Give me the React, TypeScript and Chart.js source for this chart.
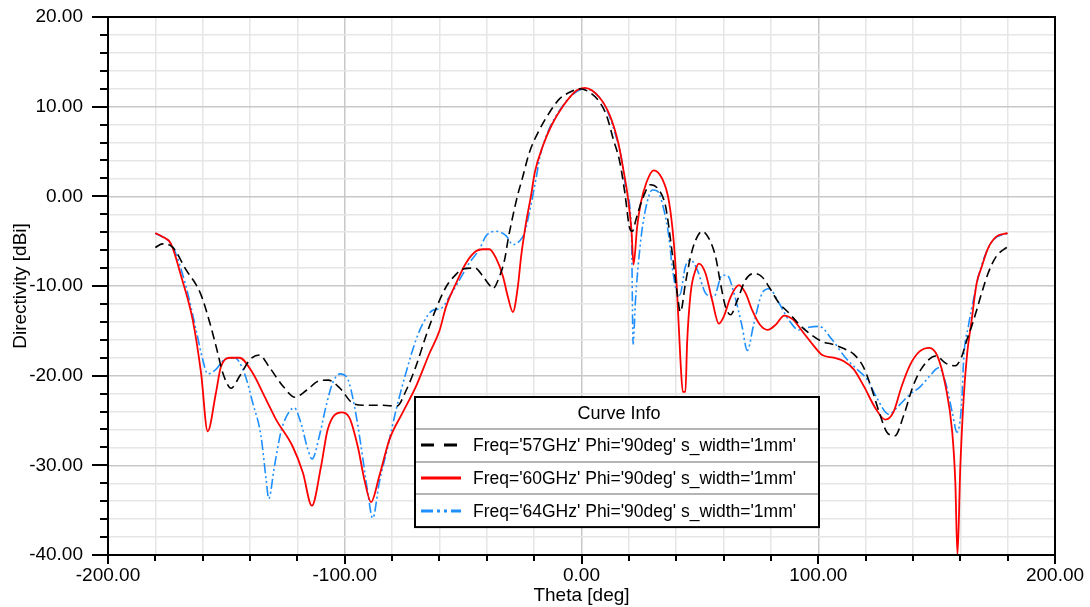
import React, { useEffect, useRef } from "react";
import { Chart, registerables } from "chart.js";

Chart.register(...registerables);

// ---------- data ----------
const seriesLabels = [
  "Freq='57GHz' Phi='90deg' s_width='1mm'",
  "Freq='60GHz' Phi='90deg' s_width='1mm'",
  "Freq='64GHz' Phi='90deg' s_width='1mm'",
];

const xMajorTicks = [-200, -100, 0, 100, 200];
const yMajorTicks = [-40, -30, -20, -10, 0, 10, 20];

const theta57 = [
  -180, -177, -173, -167, -161, -157, -154, -151.5, -148, -144.5, -140, -136, -132, -126, -121, -116, -111, -107,
  -102, -97, -92, -84, -78, -74, -70, -65.6, -61.4, -57, -53.7, -50, -45, -41.7, -38.9, -37.5, -34.6, -32.5, -31,
  -29, -27, -25, -22, -17.6, -13.4, -9.2, -5, -1, 3.5, 7.7, 10.6, 13.4, 16.2, 18.3, 20.4, 21.5, 23, 25.6, 29.2,
  32.7, 35.5, 38.3, 40.4, 41.8, 43.9, 46.1, 48.2, 51, 53.8, 56.6, 58.7, 60.8, 63, 65.8, 69.3, 72.8, 76.3, 79.2,
  83.4, 87.6, 92, 96.8, 101.7, 106, 111, 115, 119, 122, 126, 129, 132.4, 136, 140, 143.4, 149.7, 153.8, 157.9,
  160.7, 162.8, 164.8, 166.9, 169, 171.7, 175.2, 180,
];
const dir57 = [
  -5.7, -5.3, -5.6, -8.2, -10.8, -14.1, -17.1, -19.7, -21.4, -20.1, -18.2, -17.7, -19.0, -21.2, -22.4, -21.6, -20.6,
  -20.5, -21.4, -23.0, -23.3, -23.3, -23.4, -21.6, -19.0, -15.5, -12.5, -10.0, -8.9, -8.1, -8.0, -8.9, -9.9, -10.3,
  -8.9, -7.1, -4.8, -2.2, 0.1, 2.0, 4.9, 7.5, 9.4, 10.9, 11.6, 12.0, 11.6, 10.5, 9.0, 6.4, 3.8, 0.4, -3.6, -3.9,
  -2.6, -0.4, 1.3, 0.7, -1.1, -6.3, -10.8, -12.9, -9.7, -6.7, -4.9, -3.9, -4.7, -6.7, -9.7, -12.3, -13.2, -11.6,
  -9.3, -8.6, -9.0, -10.1, -11.9, -13.0, -14.3, -15.4, -16.2, -16.5, -17.0, -17.6, -19.0, -21.0, -24.3, -26.3,
  -26.7, -24.5, -21.2, -19.3, -17.8, -18.6, -18.9, -17.8, -16.0, -14.5, -12.7, -10.8, -8.6, -6.7, -5.6,
];

const theta60 = [
  -180, -177, -173.4, -169, -164.2, -160.7, -157.9, -154.4, -152.3, -148, -144.5, -138.9, -133.9, -129, -122, -117.7,
  -113.9, -110, -107.2, -101.5, -98, -94.5, -91.7, -88.9, -85.4, -81.1, -75.5, -69.9, -64.2, -60, -57.2, -53, -48.7,
  -44.5, -41.7, -38.9, -36.1, -33.2, -31.1, -29, -26.9, -25.5, -23.4, -21.3, -19.7, -16.2, -12.7, -7.7, -2.1, 1.4,
  7.7, 12, 15.5, 17.6, 19.7, 21.1, 22, 23.5, 25, 27.5, 30.5, 34, 36.9, 39, 40.4, 41.8, 42.8, 43.9, 44.6, 46.1, 48.2,
  49.6, 52.4, 55.2, 58, 60.1, 63, 66.5, 69.3, 72.1, 75.3, 78.6, 82.1, 85.6, 89.1, 94, 98.2, 101.7, 106.6, 110.8, 115,
  119.3, 124.1, 128.3, 131.7, 135.2, 138.6, 142.8, 146.9, 150.3, 153.8, 156.6, 157.9, 158.8, 160, 161.4, 162.8, 164.8,
  166.9, 169, 171.7, 175.2, 180,
];
const dir60 = [
  -4.1, -4.5, -5.3, -9.0, -13.8, -19.7, -26.2, -21.9, -19.0, -18.0, -18.0, -19.7, -22.3, -24.9, -27.9, -30.8, -34.5,
  -30.1, -26.0, -24.1, -24.7, -27.9, -31.6, -34.1, -31.2, -27.1, -24.1, -21.2, -17.5, -15.0, -12.3, -9.7, -7.4, -6.1,
  -5.9, -5.9, -6.9, -8.9, -11.2, -12.9, -10.1, -6.7, -2.9, 0.1, 2.7, 5.7, 7.9, 10.1, 11.8, 12.1, 11.0, 9.0, 6.0, 3.1,
  -0.3, -3.8, -7.6, -3.4, -0.8, 1.6, 2.9, 2.0, -0.5, -5.2, -10.8, -18.3, -21.8, -21.8, -16.4, -10.8, -8.2, -7.5, -8.6,
  -11.6, -14.2, -13.4, -11.2, -9.9, -10.8, -12.7, -14.3, -14.9, -14.3, -13.3, -13.7, -15.3, -16.7, -17.7, -18.0,
  -18.4, -19.3, -21.2, -23.6, -24.9, -24.1, -21.2, -18.9, -17.3, -16.9, -17.8, -21.2, -26.3, -31.9, -40.0, -30.2,
  -22.6, -17.8, -13.8, -9.7, -7.9, -5.8, -4.5, -4.1,
];

const theta64 = [
  -180, -172.7, -167, -162.8, -160, -157.9, -154.4, -150.8, -146.6, -142.4, -138.9, -135.4, -133.2, -132.1, -129.7,
  -126.9, -123.4, -121.3, -118.5, -115.6, -113.8, -110.7, -107.9, -105.1, -102, -98.7, -95.9, -93.1, -90.3, -88.2,
  -85.4, -81.8, -78.3, -74.6, -69.9, -67, -62.8, -59.3, -55.8, -51.5, -47.3, -43.1, -40.3, -36.1, -31.8, -29, -26.2,
  -24.1, -22, -19.2, -17.5, -14, -9, -3.5, 1.4, 6.3, 10.6, 14.1, 16.9, 19, 21.1, 21.8, 22.8, 24.9, 27, 29.9, 32, 34.8,
  36.9, 38.3, 40.4, 41.5, 43.9, 46.1, 48.9, 52.4, 55.9, 59.4, 61.5, 64.4, 67.9, 70, 72.8, 76.3, 79.2, 83.4, 87.6,
  91.8, 96.1, 100.3, 105.9, 111.5, 116.4, 120.6, 124.8, 129.7, 133.8, 138.6, 142.8, 146.9, 151, 153.8, 156.6, 158.6,
  160.7, 161.4, 163.4, 165.5, 167.6, 170.3, 173.8, 180,
];
const dir64 = [
  -4.1, -5.6, -10.1, -14.9, -18.2, -19.8, -19.3, -18.2, -18.0, -19.7, -23.0, -26.7, -31.6, -33.7, -30.1, -26.2, -24.0,
  -23.6, -25.3, -28.2, -29.3, -26.7, -23.4, -20.8, -19.8, -20.4, -23.4, -27.9, -33.0, -35.9, -31.9, -27.9, -23.8,
  -20.1, -16.0, -14.2, -12.7, -12.5, -11.2, -9.3, -7.4, -5.9, -4.4, -3.9, -4.4, -5.4, -5.0, -4.1, -1.8, 2.0, 4.5, 7.3,
  9.7, 11.4, 12.0, 11.4, 9.7, 7.1, 4.2, 0.5, -4.0, -16.5, -11.6, -5.2, -1.5, 0.7, 0.6, -1.5, -4.5, -7.8, -10.8, -11.0,
  -7.8, -7.1, -8.2, -10.8, -11.2, -8.8, -8.8, -10.8, -14.6, -17.2, -14.2, -10.8, -10.3, -11.9, -13.8, -14.9, -14.6,
  -14.5, -16.0, -18.0, -19.3, -20.4, -22.5, -24.3, -23.4, -22.1, -21.3, -20.1, -19.1, -20.8, -24.1, -26.3, -22.6,
  -18.2, -14.5, -11.6, -9.0, -6.7, -4.9, -4.1,
];

const seriesColors = ["#000000", "#ff0000", "#1e8fff"];
const plotDashes = [[9, 5], [], [10, 3, 2, 3, 2, 3]];
const legendDashes = [[13, 10], [], [12, 4, 3, 4, 3, 4]];

const FONT = "'Liberation Sans', Arial, sans-serif";

const toPoints = (xs: number[], ys: number[]) => xs.map((x, i) => ({ x, y: ys[i] }));

const decorPlugin = {
  id: "decor",
  afterDraw(chart: any) {
    const { ctx, chartArea: a, scales } = chart;
    ctx.save();
    // frame
    ctx.strokeStyle = "#000";
    ctx.lineWidth = 2;
    ctx.strokeRect(a.left, a.top, a.right - a.left, a.bottom - a.top);
    // y ticks
    scales.y.ticks.forEach((t: any) => {
      const y = Math.round(scales.y.getPixelForValue(t.value));
      const len = yMajorTicks.includes(t.value) ? 16 : 8;
      ctx.beginPath();
      ctx.moveTo(a.left - len, y);
      ctx.lineTo(a.left, y);
      ctx.stroke();
    });
    // x ticks
    scales.x.ticks.forEach((t: any) => {
      const x = Math.round(scales.x.getPixelForValue(t.value));
      const len = xMajorTicks.includes(t.value) ? 9 : 6;
      ctx.beginPath();
      ctx.moveTo(x, a.bottom);
      ctx.lineTo(x, a.bottom + len);
      ctx.stroke();
    });

    // Curve Info box
    const bx = 415, by = 397, bw = 404, headH = 32, rowH = 32.7;
    const bh = headH + rowH * 3;
    ctx.fillStyle = "#fff";
    ctx.fillRect(bx, by, bw, bh);
    ctx.strokeStyle = "#b4b4b4";
    ctx.lineWidth = 2;
    for (let i = 0; i < 3; i++) {
      const yy = Math.round(by + headH + rowH * i);
      ctx.beginPath();
      ctx.moveTo(bx, yy);
      ctx.lineTo(bx + bw, yy);
      ctx.stroke();
    }
    ctx.strokeStyle = "#000";
    ctx.lineWidth = 2;
    ctx.strokeRect(bx, by, bw, bh);
    ctx.fillStyle = "#000";
    ctx.font = `18px ${FONT}`;
    ctx.textAlign = "center";
    ctx.textBaseline = "middle";
    ctx.fillText("Curve Info", bx + bw / 2 + 2, by + headH / 2 + 1);
    ctx.textAlign = "left";
    ctx.font = `17.5px ${FONT}`;
    chart.data.datasets.forEach((ds: any, i: number) => {
      const cy = Math.round(by + headH + rowH * i + rowH / 2);
      ctx.strokeStyle = seriesColors[i];
      ctx.lineWidth = 3;
      ctx.setLineDash(legendDashes[i]);
      ctx.beginPath();
      ctx.moveTo(bx + 6, cy);
      ctx.lineTo(bx + 46, cy);
      ctx.stroke();
      ctx.setLineDash([]);
      ctx.fillStyle = "#000";
      ctx.fillText(ds.label, bx + 58, cy + 1);
    });
    ctx.restore();
  },
};

export default function App() {
  const canvasRef = useRef<HTMLCanvasElement | null>(null);

  useEffect(() => {
    const canvas = canvasRef.current;
    if (!canvas) return;
    const datasets = [
      { xs: theta57, ys: dir57 },
      { xs: theta60, ys: dir60 },
      { xs: theta64, ys: dir64 },
    ].map((s, i) => ({
      label: seriesLabels[i],
      data: toPoints(s.xs, s.ys),
      borderColor: seriesColors[i],
      backgroundColor: seriesColors[i],
      borderWidth: i === 1 ? 1.8 : 1.6,
      borderDash: plotDashes[i],
      pointRadius: 0,
      fill: false,
      cubicInterpolationMode: "monotone" as const,
    }));

    const chart = new Chart(canvas, {
      type: "line",
      data: { datasets },
      plugins: [decorPlugin],
      options: {
        animation: false,
        responsive: false,
        events: [],
        layout: { padding: { top: 17, right: 35, left: 0, bottom: 0 } },
        plugins: { legend: { display: false }, tooltip: { enabled: false } },
        scales: {
          x: {
            type: "linear",
            min: -200,
            max: 200,
            afterFit: (s: any) => {
              s.height = 52;
            },
            ticks: {
              stepSize: 20,
              autoSkip: false,
              maxRotation: 0,
              padding: 0,
              color: "#000",
              font: { family: FONT, size: 19 },
              callback: (v: any) => (xMajorTicks.includes(Number(v)) ? Number(v).toFixed(2) : ""),
            },
            grid: {
              drawTicks: true,
              tickLength: 9,
              tickColor: "rgba(0,0,0,0)",
              lineWidth: 1.5,
              color: (c: any) => (c.tick && c.tick.value % 100 === 0 ? "#c8c8c8" : "#e6e6e6"),
            },
            border: { display: false },
            title: {
              display: true,
              text: "Theta [deg]",
              color: "#000",
              font: { family: FONT, size: 19 },
              padding: { top: 0, bottom: 0 },
            },
          },
          y: {
            type: "linear",
            min: -40,
            max: 20,
            afterFit: (s: any) => {
              s.width = 108;
            },
            ticks: {
              stepSize: 2,
              autoSkip: false,
              padding: 5,
              color: "#000",
              font: { family: FONT, size: 19 },
              callback: (v: any) => (yMajorTicks.includes(Number(v)) ? Number(v).toFixed(2) : ""),
            },
            grid: {
              drawTicks: true,
              tickLength: 20,
              tickColor: "rgba(0,0,0,0)",
              lineWidth: 1.5,
              color: (c: any) => (c.tick && c.tick.value % 10 === 0 ? "#c8c8c8" : "#e6e6e6"),
            },
            border: { display: false },
            title: {
              display: true,
              text: "Directivity [dBi]",
              color: "#000",
              font: { family: FONT, size: 19 },
              padding: { top: 9, bottom: 0 },
            },
          },
        },
      },
    });
    return () => chart.destroy();
  }, []);

  return (
    <div style={{ position: "fixed", left: 0, top: 0, width: 1090, height: 607, background: "#fff" }}>
      <canvas ref={canvasRef} width={1090} height={607} style={{ display: "block" }} />
    </div>
  );
}
